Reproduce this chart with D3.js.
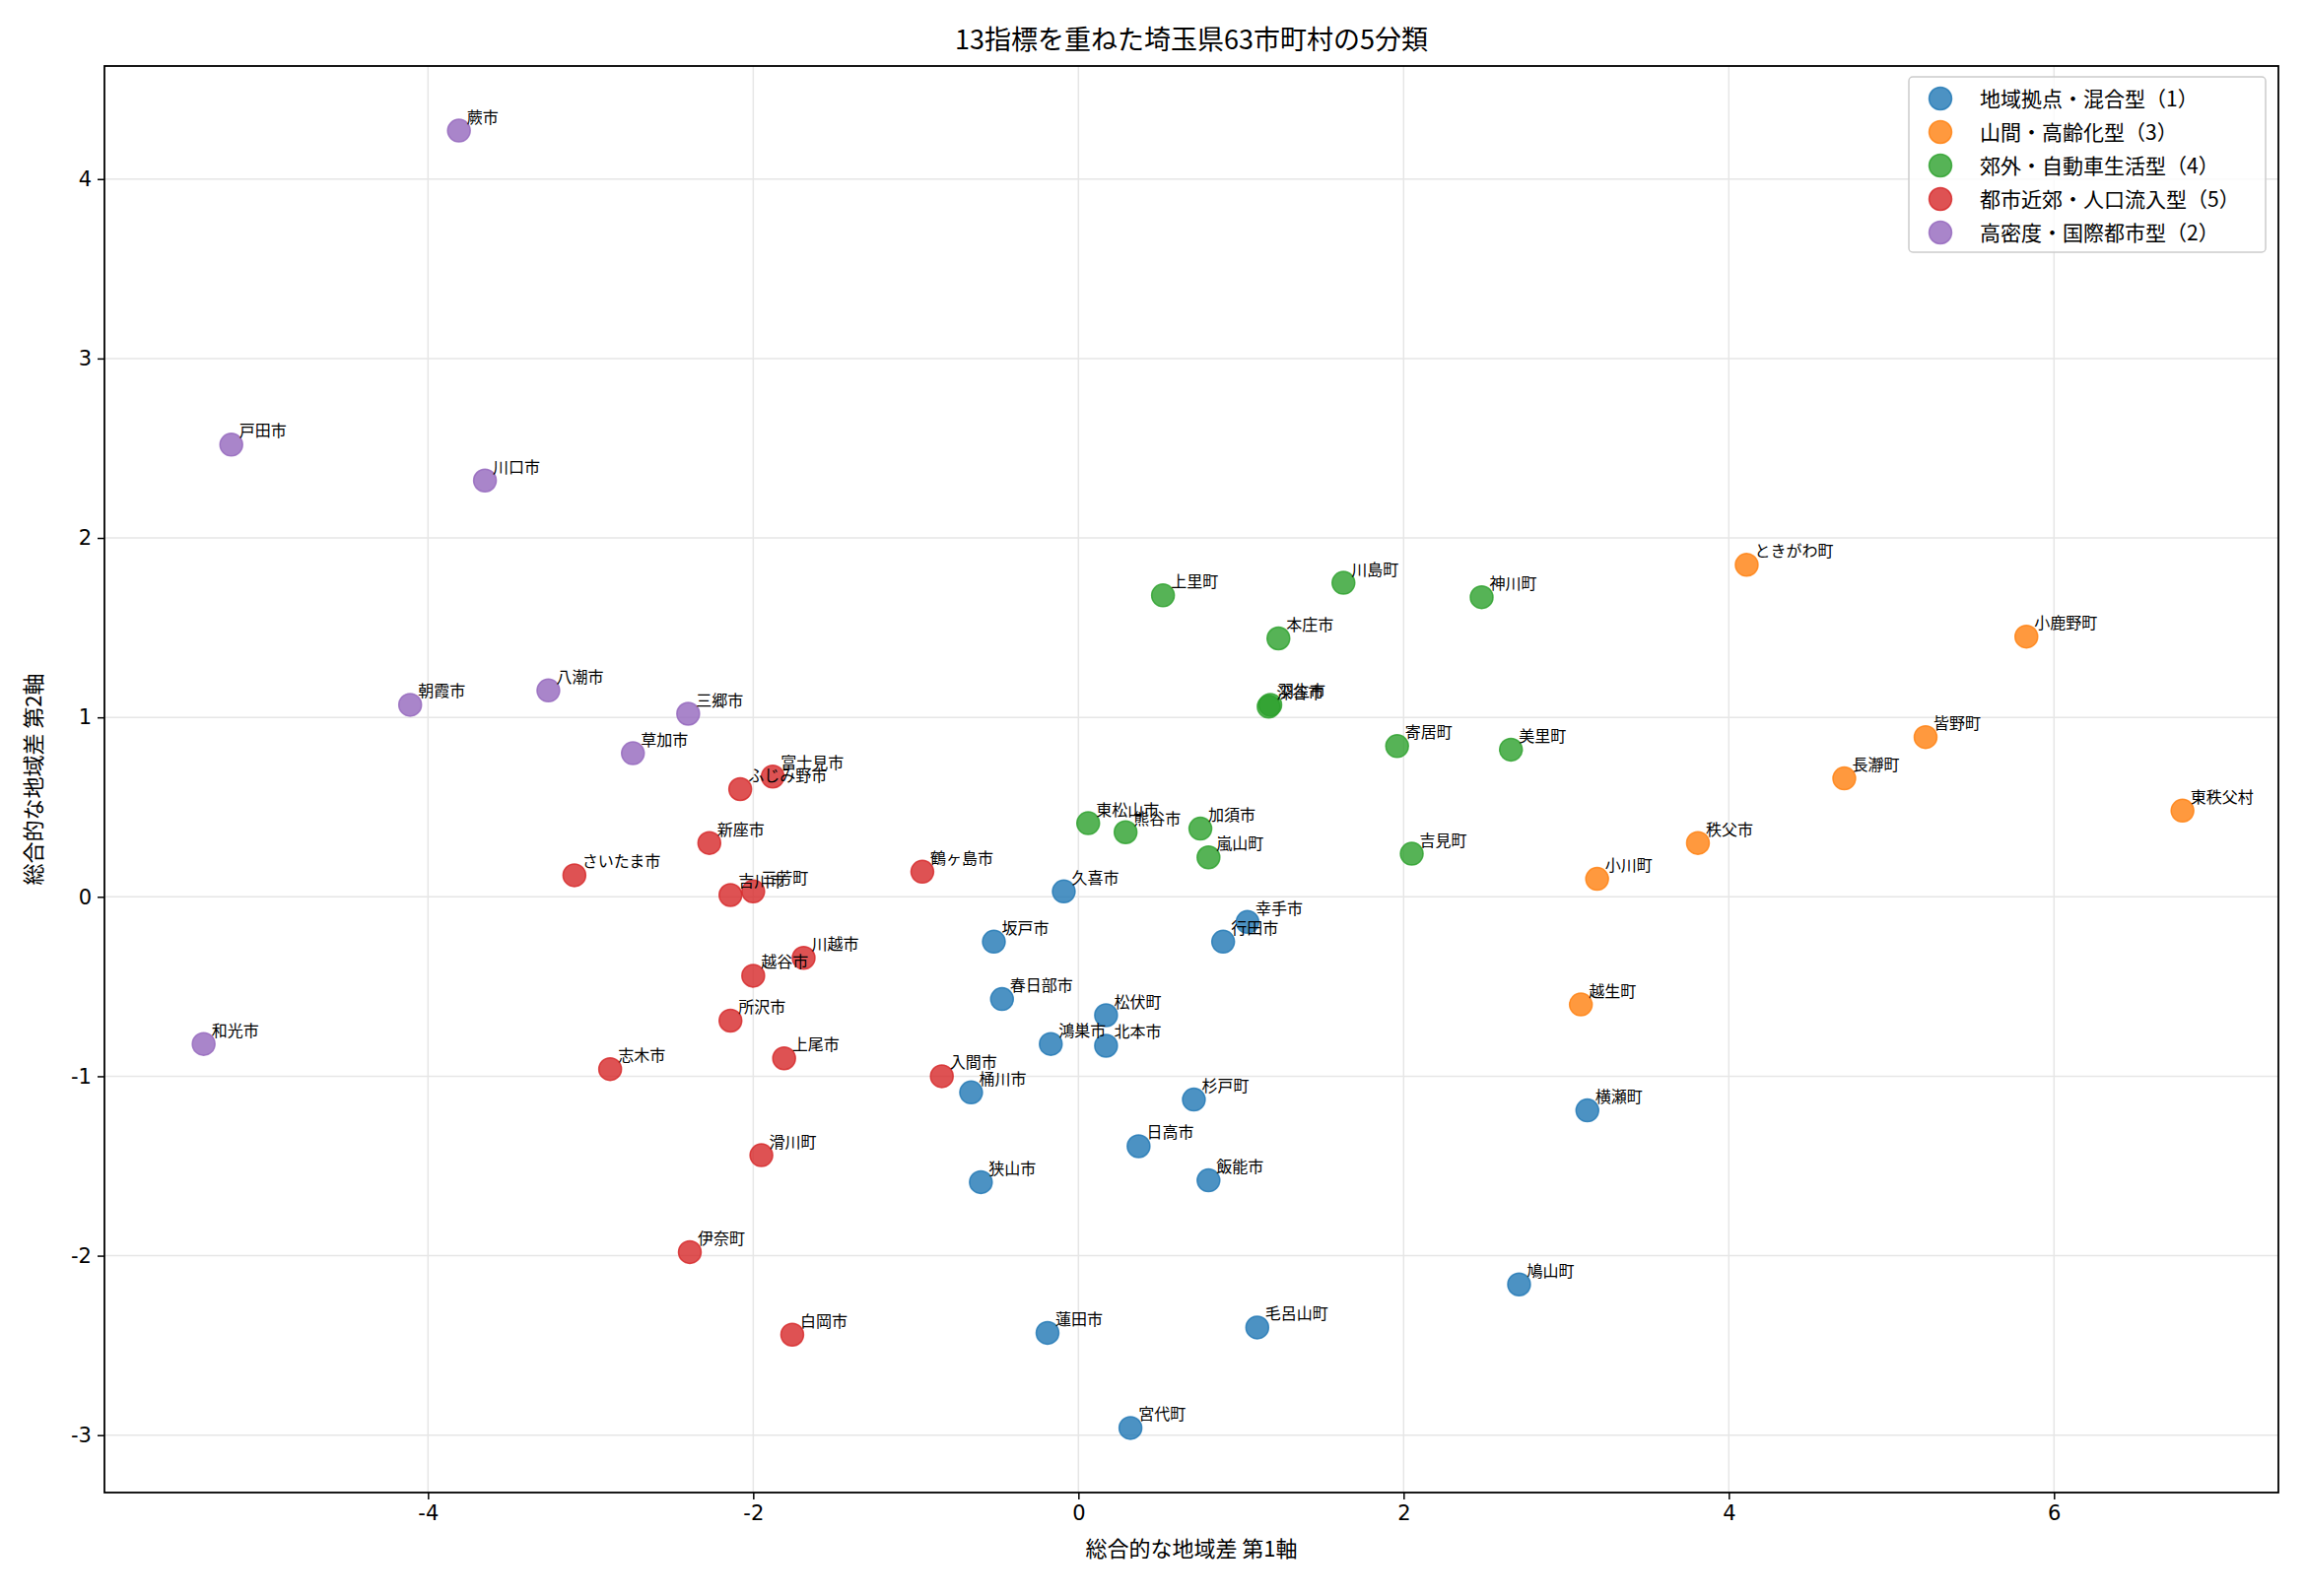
<!DOCTYPE html>
<html><head><meta charset="utf-8">
<script src="https://cdn.jsdelivr.net/npm/d3@7"></script>
<style>body{margin:0;background:#fff;font-family:"Noto Sans CJK JP","Noto Sans",sans-serif;}</style>
</head><body><div id="chart"></div>
<script>
var clusterNames = ["地域拠点・混合型（1）", "山間・高齢化型（3）", "郊外・自動車生活型（4）", "都市近郊・人口流入型（5）", "高密度・国際都市型（2）"];
var clusterColors = ["#1f77b4", "#ff7f0e", "#2ca02c", "#d62728", "#9467bd"];
var xTicks = [-4, -2, 0, 2, 4, 6];
var yTicks = [-3, -2, -1, 0, 1, 2, 3, 4];

// [name, axis1, axis2] per cluster (order of legend)
var cluster1 = [["久喜市",-0.09,0.03],["坂戸市",-0.52,-0.25],["幸手市",1.04,-0.14],["行田市",0.89,-0.25],["春日部市",-0.47,-0.57],["松伏町",0.17,-0.66],["鴻巣市",-0.17,-0.82],["北本市",0.17,-0.83],["桶川市",-0.66,-1.09],["杉戸町",0.71,-1.13],["日高市",0.37,-1.39],["狭山市",-0.60,-1.59],["飯能市",0.80,-1.58],["蓮田市",-0.19,-2.43],["毛呂山町",1.10,-2.40],["宮代町",0.32,-2.96],["横瀬町",3.13,-1.19],["鳩山町",2.71,-2.16]];
var cluster3 = [["ときがわ町",4.11,1.85],["小鹿野町",5.83,1.45],["皆野町",5.21,0.89],["長瀞町",4.71,0.66],["東秩父村",6.79,0.48],["秩父市",3.81,0.30],["小川町",3.19,0.10],["越生町",3.09,-0.60]];
var cluster4 = [["上里町",0.52,1.68],["川島町",1.63,1.75],["神川町",2.48,1.67],["本庄市",1.23,1.44],["深谷市",1.17,1.06],["羽生市",1.18,1.07],["寄居町",1.96,0.84],["美里町",2.66,0.82],["東松山市",0.06,0.41],["熊谷市",0.29,0.36],["加須市",0.75,0.38],["嵐山町",0.80,0.22],["吉見町",2.05,0.24]];
var cluster5 = [["富士見市",-1.88,0.67],["ふじみ野市",-2.08,0.60],["新座市",-2.27,0.30],["さいたま市",-3.10,0.12],["吉川市",-2.14,0.01],["三芳町",-2.00,0.03],["鶴ヶ島市",-0.96,0.14],["川越市",-1.69,-0.34],["越谷市",-2.00,-0.44],["所沢市",-2.14,-0.69],["上尾市",-1.81,-0.90],["志木市",-2.88,-0.96],["入間市",-0.84,-1.00],["滑川町",-1.95,-1.44],["伊奈町",-2.39,-1.98],["白岡市",-1.76,-2.44]];
var cluster2 = [["蕨市",-3.81,4.27],["戸田市",-5.21,2.52],["川口市",-3.65,2.32],["朝霞市",-4.11,1.07],["八潮市",-3.26,1.15],["三郷市",-2.40,1.02],["草加市",-2.74,0.80],["和光市",-5.38,-0.82]];
var clusters = [cluster1, cluster3, cluster4, cluster5, cluster2];

var W = 2340, H = 1620;
var m = {left: 106, right: 28, top: 67, bottom: 105};
var svg = d3.select("#chart").append("svg").attr("width", W).attr("height", H);

var x = d3.scaleLinear().domain([-5.99, 7.38]).range([m.left, W - m.right]);
var y = d3.scaleLinear().domain([-3.32, 4.63]).range([H - m.bottom, m.top]);

// grid
var g = svg.append("g");
g.selectAll(".gx").data(xTicks).enter().append("line")
    .attr("x1", d => x(d)).attr("x2", d => x(d)).attr("y1", m.top).attr("y2", H - m.bottom)
    .attr("stroke", "#e6e6e6").attr("stroke-width", 1.5);
g.selectAll(".gy").data(yTicks).enter().append("line")
    .attr("y1", d => y(d)).attr("y2", d => y(d)).attr("x1", m.left).attr("x2", W - m.right)
    .attr("stroke", "#e6e6e6").attr("stroke-width", 1.5);

// axes
var xAxis = svg.append("g").attr("transform", "translate(0," + (H - m.bottom) + ")")
    .call(d3.axisBottom(x).tickValues(xTicks).tickFormat(d => String(d)).tickSize(7).tickPadding(6));
var yAxis = svg.append("g").attr("transform", "translate(" + m.left + ",0)")
    .call(d3.axisLeft(y).tickValues(yTicks).tickFormat(d => String(d)).tickSize(7).tickPadding(6));
[xAxis, yAxis].forEach(a => {
    a.selectAll("text").attr("font-size", 21).attr("fill", "#000").attr("font-family", "DejaVu Sans");
    a.selectAll("line").attr("stroke", "#000").attr("stroke-width", 1.5);
    a.select(".domain").remove();
});
svg.append("rect").attr("x", m.left).attr("y", m.top)
    .attr("width", W - m.left - m.right).attr("height", H - m.top - m.bottom)
    .attr("fill", "none").attr("stroke", "#000").attr("stroke-width", 1.8);

// points
clusters.forEach(function (data, i) {
    var cg = svg.append("g");
    cg.selectAll("circle").data(data).enter().append("circle")
        .attr("cx", d => x(d[1])).attr("cy", d => y(d[2])).attr("r", 11.5)
        .attr("fill", clusterColors[i]).attr("fill-opacity", 0.8)
        .attr("stroke", clusterColors[i]).attr("stroke-opacity", 0.8).attr("stroke-width", 1.5);
});
clusters.forEach(function (data) {
    svg.append("g").selectAll("text").data(data).enter().append("text")
        .attr("x", d => x(d[1]) + 8).attr("y", d => y(d[2]) - 8)
        .attr("font-size", 16).attr("fill", "#000").text(d => d[0]);
});

// labels
svg.append("text").attr("x", (m.left + W - m.right) / 2).attr("y", 50).attr("text-anchor", "middle")
    .attr("font-size", 27).text("13指標を重ねた埼玉県63市町村の5分類");
svg.append("text").attr("x", (m.left + W - m.right) / 2).attr("y", H - 40).attr("text-anchor", "middle")
    .attr("font-size", 22).text("総合的な地域差 第1軸");
svg.append("text").attr("transform", "translate(42," + ((m.top + H - m.bottom) / 2) + ") rotate(-90)")
    .attr("text-anchor", "middle").attr("font-size", 22).text("総合的な地域差 第2軸");

// legend
var lg = svg.append("g").attr("transform", "translate(1937,78)");
lg.append("rect").attr("width", 362).attr("height", 178).attr("rx", 4)
    .attr("fill", "#fff").attr("fill-opacity", 0.8).attr("stroke", "#ccc").attr("stroke-width", 1.5);
clusterNames.forEach(function (n, i) {
    var yy = 22 + i * 34;
    lg.append("circle").attr("cx", 32).attr("cy", yy).attr("r", 11.5)
        .attr("fill", clusterColors[i]).attr("fill-opacity", 0.8)
        .attr("stroke", clusterColors[i]).attr("stroke-opacity", 0.8).attr("stroke-width", 1.5);
    lg.append("text").attr("x", 72).attr("y", yy + 8).attr("font-size", 21).text(n);
});
</script></body></html>
